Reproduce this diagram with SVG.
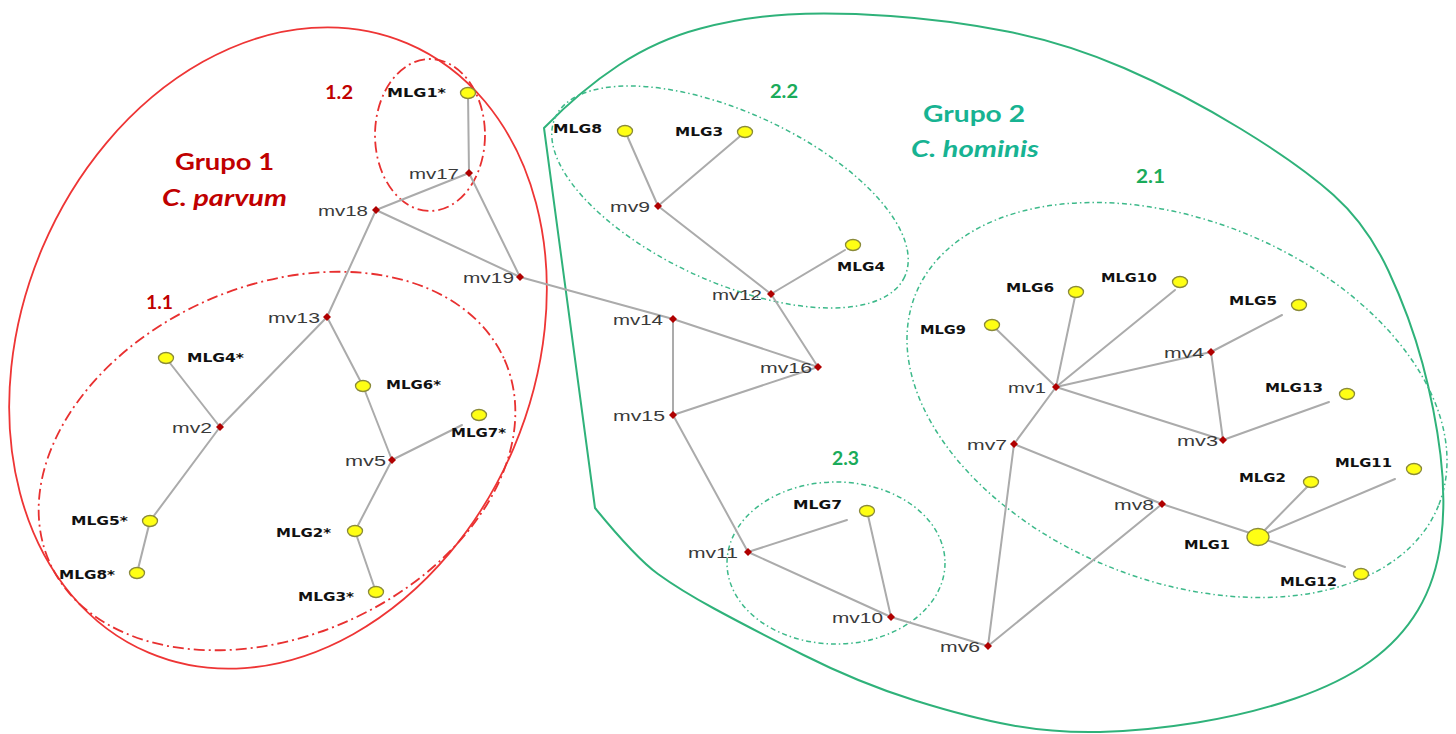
<svg xmlns="http://www.w3.org/2000/svg" width="1456" height="734" viewBox="0 0 1456 734">
<defs>
<style>
.e{stroke:#ababab;stroke-width:2;fill:none;stroke-linecap:round}
.y{fill:#ffff14;stroke:#8a8a3a;stroke-width:1.3}
.d{fill:#b00000}
.mv{font-family:"Liberation Sans",Arial,sans-serif;font-size:15px;fill:#3a3a3a}
.mlg{font-family:"DejaVu Sans",Verdana,sans-serif;font-weight:bold;font-size:11.5px;fill:#111}
.red{font-family:Lato,"Liberation Sans",sans-serif;font-weight:bold;fill:#c00000}
.grn{font-family:Lato,"Liberation Sans",sans-serif;font-weight:bold;fill:#1aab5a}
.teal{font-family:Lato,"Liberation Sans",sans-serif;font-weight:bold;fill:#17b392}
.big{font-size:23px}
.sub{font-size:18px}
.rs{fill:none;stroke:#ee3535;stroke-width:1.8}
.rd{fill:none;stroke:#e83030;stroke-width:1.8;stroke-dasharray:11 4 2 4}
.gs{fill:none;stroke:#2fb27a;stroke-width:2}
.gd{fill:none;stroke:#3db98a;stroke-width:1.5;stroke-dasharray:5 3 1.5 3}
</style>
<path id="dia" d="M0,-4L4,0L0,4L-4,0Z"/>
</defs>
<rect width="1456" height="734" fill="#fff"/>

<g id="regions">
<ellipse class="rs" cx="278" cy="348" rx="256" ry="331" transform="rotate(23 278 348)"/>
<ellipse class="rd" cx="277" cy="461" rx="249" ry="175" transform="rotate(-24 277 461)"/>
<ellipse class="rd" cx="430" cy="135" rx="55" ry="76"/>
<path class="gs" d="M595,508 L544,128 Q581,90 619,65 Q657,40 700.5,28.5 Q744,17 788,14.5 Q832,12 890.5,16 Q949,20 1007.5,31.5 Q1066,43 1124,68 Q1182,93 1241,129 Q1300,165 1333.5,195 Q1367,225 1388.5,271 Q1410,317 1422.5,363.5 Q1435,410 1440.5,455 Q1446,500 1441,540 Q1436,580 1418,610 Q1400,640 1370,661.5 Q1340,683 1295,698.5 Q1250,714 1197.5,722.5 Q1145,731 1100,732 Q1055,733 1013,725.5 Q971,718 915,700.5 Q859,683 803.5,655 Q748,627 714,608.5 Q680,590 658,574 Q636,558 595,508 Z"/>
<ellipse class="gd" cx="730" cy="197" rx="192" ry="85" transform="rotate(24.5 730 197)"/>
<ellipse class="gd" cx="1177" cy="400" rx="282" ry="180" transform="rotate(22 1177 400)"/>
<ellipse class="gd" cx="836" cy="563" rx="109" ry="81"/>
</g>

<g id="region-labels">
<text class="red big" x="175" y="170" textLength="99" lengthAdjust="spacingAndGlyphs">Grupo 1</text>
<text class="red big" x="162" y="206" textLength="125" lengthAdjust="spacingAndGlyphs" font-style="italic">C. parvum</text>
<text class="red sub" x="325" y="99" textLength="28" lengthAdjust="spacingAndGlyphs">1.2</text>
<text class="red sub" x="146" y="309" textLength="27" lengthAdjust="spacingAndGlyphs">1.1</text>
<text class="teal big" x="923" y="122" textLength="102" lengthAdjust="spacingAndGlyphs">Grupo 2</text>
<text class="teal big" x="911" y="157" textLength="128" lengthAdjust="spacingAndGlyphs" font-style="italic">C. hominis</text>
<text class="grn sub" x="770" y="98" textLength="28" lengthAdjust="spacingAndGlyphs">2.2</text>
<text class="grn sub" x="1136" y="183" textLength="29" lengthAdjust="spacingAndGlyphs">2.1</text>
<text class="grn sub" x="832" y="465" textLength="27" lengthAdjust="spacingAndGlyphs">2.3</text>
</g>

<g id="connectors">
<line class="e" x1="468" y1="93" x2="469" y2="173"/>
<line class="e" x1="469" y1="173" x2="376" y2="210"/>
<line class="e" x1="469" y1="173" x2="520" y2="277"/>
<line class="e" x1="376" y1="210" x2="520" y2="277"/>
<line class="e" x1="376" y1="210" x2="327" y2="317"/>
<line class="e" x1="327" y1="317" x2="220" y2="427"/>
<line class="e" x1="327" y1="317" x2="363" y2="386"/>
<line class="e" x1="220" y1="427" x2="166" y2="358"/>
<line class="e" x1="220" y1="427" x2="150" y2="521"/>
<line class="e" x1="150" y1="521" x2="137" y2="573"/>
<line class="e" x1="363" y1="386" x2="392" y2="460"/>
<line class="e" x1="392" y1="460" x2="462" y2="425"/>
<line class="e" x1="392" y1="460" x2="355" y2="531"/>
<line class="e" x1="355" y1="531" x2="376" y2="592"/>
<line class="e" x1="520" y1="277" x2="673" y2="319"/>
<line class="e" x1="673" y1="319" x2="673" y2="415"/>
<line class="e" x1="673" y1="319" x2="818" y2="367"/>
<line class="e" x1="673" y1="415" x2="818" y2="367"/>
<line class="e" x1="818" y1="367" x2="771" y2="294"/>
<line class="e" x1="771" y1="294" x2="658" y2="206"/>
<line class="e" x1="771" y1="294" x2="845" y2="250"/>
<line class="e" x1="658" y1="206" x2="625" y2="131"/>
<line class="e" x1="658" y1="206" x2="745" y2="132"/>
<line class="e" x1="673" y1="415" x2="748" y2="552"/>
<line class="e" x1="748" y1="552" x2="847" y2="520"/>
<line class="e" x1="748" y1="552" x2="891" y2="617"/>
<line class="e" x1="867" y1="511" x2="891" y2="617"/>
<line class="e" x1="891" y1="617" x2="988" y2="646"/>
<line class="e" x1="988" y1="646" x2="1014" y2="444"/>
<line class="e" x1="988" y1="646" x2="1162" y2="504"/>
<line class="e" x1="1014" y1="444" x2="1056" y2="387"/>
<line class="e" x1="1014" y1="444" x2="1162" y2="504"/>
<line class="e" x1="1162" y1="504" x2="1250" y2="533"/>
<line class="e" x1="1056" y1="387" x2="992" y2="325"/>
<line class="e" x1="1056" y1="387" x2="1076" y2="292"/>
<line class="e" x1="1056" y1="387" x2="1175" y2="290"/>
<line class="e" x1="1056" y1="387" x2="1211" y2="352"/>
<line class="e" x1="1056" y1="387" x2="1223" y2="440"/>
<line class="e" x1="1211" y1="352" x2="1282" y2="315"/>
<line class="e" x1="1211" y1="352" x2="1223" y2="440"/>
<line class="e" x1="1223" y1="440" x2="1329" y2="402"/>
<line class="e" x1="1258" y1="537" x2="1308" y2="486"/>
<line class="e" x1="1258" y1="537" x2="1395" y2="479"/>
<line class="e" x1="1258" y1="537" x2="1345" y2="567"/>
</g>

<g id="g1-MLG1"><ellipse class="y" cx="468" cy="93" rx="7.5" ry="5.5"/><text class="mlg" x="387" y="97" textLength="59" lengthAdjust="spacingAndGlyphs">MLG1*</text></g>
<g id="g1-MLG4"><ellipse class="y" cx="166" cy="358" rx="7.5" ry="5.5"/><text class="mlg" x="187" y="362" textLength="57" lengthAdjust="spacingAndGlyphs">MLG4*</text></g>
<g id="g1-MLG6"><ellipse class="y" cx="363" cy="386" rx="7.5" ry="5.5"/><text class="mlg" x="386" y="389" textLength="55" lengthAdjust="spacingAndGlyphs">MLG6*</text></g>
<g id="g1-MLG7"><ellipse class="y" cx="479" cy="415" rx="7.5" ry="5.5"/><text class="mlg" x="451" y="437" textLength="55" lengthAdjust="spacingAndGlyphs">MLG7*</text></g>
<g id="g1-MLG5"><ellipse class="y" cx="150" cy="521" rx="7.5" ry="5.5"/><text class="mlg" x="71" y="525" textLength="57" lengthAdjust="spacingAndGlyphs">MLG5*</text></g>
<g id="g1-MLG8"><ellipse class="y" cx="137" cy="573" rx="7.5" ry="5.5"/><text class="mlg" x="59" y="579" textLength="56" lengthAdjust="spacingAndGlyphs">MLG8*</text></g>
<g id="g1-MLG2"><ellipse class="y" cx="355" cy="531" rx="7.5" ry="5.5"/><text class="mlg" x="276" y="537" textLength="55" lengthAdjust="spacingAndGlyphs">MLG2*</text></g>
<g id="g1-MLG3"><ellipse class="y" cx="376" cy="592" rx="7.5" ry="5.5"/><text class="mlg" x="298" y="601" textLength="56" lengthAdjust="spacingAndGlyphs">MLG3*</text></g>

<g id="mv17"><use href="#dia" class="d" x="469" y="173"/><text class="mv" x="409" y="178.5" textLength="50" lengthAdjust="spacingAndGlyphs">mv17</text></g>
<g id="mv18"><use href="#dia" class="d" x="376" y="210"/><text class="mv" x="318" y="215.5" textLength="50" lengthAdjust="spacingAndGlyphs">mv18</text></g>
<g id="mv19"><use href="#dia" class="d" x="520" y="277"/><text class="mv" x="463" y="282.5" textLength="51" lengthAdjust="spacingAndGlyphs">mv19</text></g>
<g id="mv13"><use href="#dia" class="d" x="327" y="317"/><text class="mv" x="268" y="322.5" textLength="52" lengthAdjust="spacingAndGlyphs">mv13</text></g>
<g id="mv2"><use href="#dia" class="d" x="220" y="427"/><text class="mv" x="172" y="432.5" textLength="40" lengthAdjust="spacingAndGlyphs">mv2</text></g>
<g id="mv5"><use href="#dia" class="d" x="392" y="460"/><text class="mv" x="345" y="465.5" textLength="41" lengthAdjust="spacingAndGlyphs">mv5</text></g>

<g id="g2-MLG8"><ellipse class="y" cx="625" cy="131" rx="7.5" ry="5.5"/><text class="mlg" x="553" y="133" textLength="49" lengthAdjust="spacingAndGlyphs">MLG8</text></g>
<g id="g2-MLG3"><ellipse class="y" cx="745" cy="132" rx="7.5" ry="5.5"/><text class="mlg" x="675" y="136" textLength="48" lengthAdjust="spacingAndGlyphs">MLG3</text></g>
<g id="g2-MLG4"><ellipse class="y" cx="853" cy="245" rx="7.5" ry="5.5"/><text class="mlg" x="837" y="271" textLength="48" lengthAdjust="spacingAndGlyphs">MLG4</text></g>
<g id="g2-MLG7"><ellipse class="y" cx="867" cy="511" rx="7.5" ry="5.5"/><text class="mlg" x="793" y="509" textLength="49" lengthAdjust="spacingAndGlyphs">MLG7</text></g>
<g id="g2-MLG9"><ellipse class="y" cx="992" cy="325" rx="7.5" ry="5.5"/><text class="mlg" x="920" y="334" textLength="46" lengthAdjust="spacingAndGlyphs">MLG9</text></g>
<g id="g2-MLG6"><ellipse class="y" cx="1076" cy="292" rx="7.5" ry="5.5"/><text class="mlg" x="1006" y="292" textLength="48" lengthAdjust="spacingAndGlyphs">MLG6</text></g>
<g id="g2-MLG10"><ellipse class="y" cx="1180" cy="282" rx="7.5" ry="5.5"/><text class="mlg" x="1101" y="282" textLength="56" lengthAdjust="spacingAndGlyphs">MLG10</text></g>
<g id="g2-MLG5"><ellipse class="y" cx="1299" cy="305" rx="7.5" ry="5.5"/><text class="mlg" x="1229" y="305" textLength="48" lengthAdjust="spacingAndGlyphs">MLG5</text></g>
<g id="g2-MLG13"><ellipse class="y" cx="1347" cy="394" rx="7.5" ry="5.5"/><text class="mlg" x="1265" y="392" textLength="58" lengthAdjust="spacingAndGlyphs">MLG13</text></g>
<g id="g2-MLG11"><ellipse class="y" cx="1414" cy="469" rx="7.5" ry="5.5"/><text class="mlg" x="1335" y="467" textLength="57" lengthAdjust="spacingAndGlyphs">MLG11</text></g>
<g id="g2-MLG2"><ellipse class="y" cx="1311" cy="482" rx="7.5" ry="5.5"/><text class="mlg" x="1239" y="482" textLength="47" lengthAdjust="spacingAndGlyphs">MLG2</text></g>
<g id="g2-MLG1"><ellipse class="y" cx="1258" cy="537" rx="11" ry="8.5"/><text class="mlg" x="1184" y="549" textLength="46" lengthAdjust="spacingAndGlyphs">MLG1</text></g>
<g id="g2-MLG12"><ellipse class="y" cx="1361" cy="574" rx="7.5" ry="5.5"/><text class="mlg" x="1280" y="586" textLength="57" lengthAdjust="spacingAndGlyphs">MLG12</text></g>

<g id="mv9"><use href="#dia" class="d" x="658" y="206"/><text class="mv" x="610" y="211.5" textLength="40" lengthAdjust="spacingAndGlyphs">mv9</text></g>
<g id="mv12"><use href="#dia" class="d" x="771" y="294"/><text class="mv" x="712" y="299.5" textLength="50" lengthAdjust="spacingAndGlyphs">mv12</text></g>
<g id="mv14"><use href="#dia" class="d" x="673" y="319"/><text class="mv" x="613" y="324.5" textLength="50" lengthAdjust="spacingAndGlyphs">mv14</text></g>
<g id="mv16"><use href="#dia" class="d" x="818" y="367"/><text class="mv" x="760" y="372.5" textLength="52" lengthAdjust="spacingAndGlyphs">mv16</text></g>
<g id="mv15"><use href="#dia" class="d" x="673" y="415"/><text class="mv" x="613" y="420.5" textLength="52" lengthAdjust="spacingAndGlyphs">mv15</text></g>
<g id="mv11"><use href="#dia" class="d" x="748" y="552"/><text class="mv" x="688" y="557.5" textLength="50" lengthAdjust="spacingAndGlyphs">mv11</text></g>
<g id="mv10"><use href="#dia" class="d" x="891" y="617"/><text class="mv" x="832" y="622.5" textLength="51" lengthAdjust="spacingAndGlyphs">mv10</text></g>
<g id="mv6"><use href="#dia" class="d" x="988" y="646"/><text class="mv" x="940" y="651.5" textLength="40" lengthAdjust="spacingAndGlyphs">mv6</text></g>
<g id="mv7"><use href="#dia" class="d" x="1014" y="444"/><text class="mv" x="967" y="449.5" textLength="40" lengthAdjust="spacingAndGlyphs">mv7</text></g>
<g id="mv1"><use href="#dia" class="d" x="1056" y="387"/><text class="mv" x="1008" y="392.5" textLength="38" lengthAdjust="spacingAndGlyphs">mv1</text></g>
<g id="mv4"><use href="#dia" class="d" x="1211" y="352"/><text class="mv" x="1164" y="357.5" textLength="40" lengthAdjust="spacingAndGlyphs">mv4</text></g>
<g id="mv3"><use href="#dia" class="d" x="1223" y="440"/><text class="mv" x="1177" y="445.5" textLength="41" lengthAdjust="spacingAndGlyphs">mv3</text></g>
<g id="mv8"><use href="#dia" class="d" x="1162" y="504"/><text class="mv" x="1114" y="509.5" textLength="40" lengthAdjust="spacingAndGlyphs">mv8</text></g>
</svg>
